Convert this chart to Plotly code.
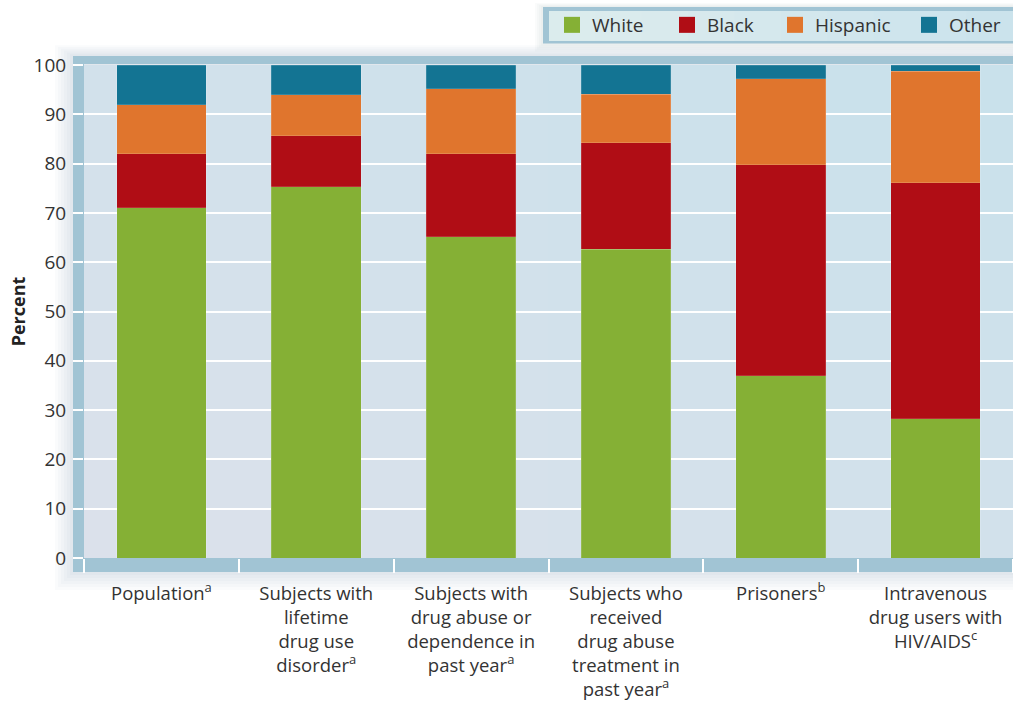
import plotly.graph_objects as go

# Groups compared (one stacked bar each) and their axis labels
categories = [
    "Population",
    "Lifetime drug use disorder",
    "Drug abuse or dependence in past year",
    "Drug abuse treatment in past year",
    "Prisoners",
    "IV drug users with HIV/AIDS",
]
tick_labels = [
    "Population<sup>a</sup>",
    "Subjects with<br>lifetime<br>drug use<br>disorder<sup>a</sup>",
    "Subjects with<br>drug abuse or<br>dependence in<br>past year<sup>a</sup>",
    "Subjects who<br>received<br>drug abuse<br>treatment in<br>past year<sup>a</sup>",
    "Prisoners<sup>b</sup>",
    "Intravenous<br>drug users with<br>HIV/AIDS<sup>c</sup>",
]

# Percent of each group by race/ethnicity
white = [71.0, 75.3, 65.2, 62.6, 37.0, 28.2]
black = [11.0, 10.3, 16.8, 21.6, 42.8, 47.9]
hispanic = [9.9, 8.4, 13.2, 9.9, 17.4, 22.6]
other = [8.1, 6.0, 4.8, 5.9, 2.8, 1.3]

y_ticks = list(range(0, 101, 10))
grid_ticks = list(range(10, 100, 10))

series_names = ["White", "Black", "Hispanic", "Other"]
series_values = [white, black, hispanic, other]
series_colors = ["#85b035", "#b00d15", "#e0752d", "#137493"]
# horizontal pixel position of each legend swatch
legend_icon_px = [573, 688, 796, 930]

FONT = "Open Sans"
TEXT = "#333333"
FRAME = "#a1c4d4"

# figure geometry (pixels)
W, H = 1013, 702
L, R, T, B = 84, 0, 65, 144
PW, PH = W - L - R, H - T - B


def fx(px):
    return (px - L) / PW


def fy(py):
    return (H - B - py) / PH


fig = go.Figure()

legends = {}
for k, (name, vals, color) in enumerate(zip(series_names, series_values, series_colors)):
    leg_id = "legend" if k == 0 else f"legend{k + 1}"
    fig.add_trace(go.Bar(
        x=categories, y=vals, name=name, legendgroup=name,
        marker=dict(color=color, line=dict(width=0.6, color="rgba(255,255,255,0.25)")),
        width=0.58, showlegend=False, hoverinfo="skip",
    ))
    # legend entry with a larger square swatch
    fig.add_trace(go.Scatter(
        x=[None], y=[None], mode="markers", name=name, legendgroup=name,
        marker=dict(symbol="square", size=16, color=color, line=dict(width=0)),
        yaxis="y2", showlegend=True, legend=leg_id,
    ))
    legends[leg_id] = dict(
        orientation="h",
        x=fx(legend_icon_px[k] - 21), xanchor="left", y=fy(25), yanchor="middle",
        bgcolor="rgba(0,0,0,0)", borderwidth=0,
        font=dict(family=FONT, size=19, color=TEXT),
        itemwidth=30, itemclick=False, itemdoubleclick=False,
    )

shapes = []


def rect(x0, y0, x1, y1, fill, layer="below"):
    shapes.append(dict(type="rect", xref="paper", yref="paper",
                       x0=fx(x0), x1=fx(x1), y0=fy(y1), y1=fy(y0),
                       fillcolor=fill, line=dict(width=0), layer=layer))


# soft drop shadow around the framed plot and the legend box
for i in range(6):
    d = 3 * (i + 1)
    rect(73 - d, 56 - d * 0.6, W + 30, 572 + d, "rgba(90,115,140,0.026)")
for i in range(4):
    d = 2 * (i + 1)
    rect(543 - d, 7 - d * 0.5, W + 30, 43.5 + d, "rgba(90,115,140,0.03)")

# legend box
rect(543, 7, W + 30, 43.5, FRAME)
rect(549, 11, W + 30, 41, "#c9e2eb")
for i in range(10):
    rect(549, 11, 549 + (W - 549) * (10 - i) / 10, 41, "rgba(255,255,255,0.05)")

# plot background with a gentle diagonal gradient
rect(L, T, W, H - B, "#c7e1eb")
for i in range(10):
    rect(L, H - B - PH * (i + 1) / 10, W, H - B, "rgba(255,255,255,0.032)")
    rect(L, T, L + PW * (i + 1) / 10, H - B, "rgba(255,255,255,0.032)")

# frame bands (left, bottom, top)
rect(73, 56, L, 572, FRAME)
rect(73, H - B, W + 30, 572, FRAME)
rect(73, 56, W + 30, 64, FRAME)

fig.update_layout(
    width=W, height=H,
    margin=dict(l=L, r=R, t=T, b=B, autoexpand=False),
    paper_bgcolor="white",
    plot_bgcolor="rgba(0,0,0,0)",
    barmode="stack",
    bargap=0.42,
    font=dict(family=FONT, size=19, color=TEXT),
    shapes=shapes,
    showlegend=True,
    xaxis=dict(
        type="category", categoryorder="array", categoryarray=categories,
        tickmode="array", tickvals=categories, ticktext=tick_labels,
        range=[-0.5, len(categories) - 0.5],
        ticks="outside", tickson="boundaries", ticklen=14,
        tickcolor="white", tickwidth=2,
        showgrid=False, showline=False, zeroline=False,
        tickfont=dict(family=FONT, size=18.5, color=TEXT),
        ticklabelstandoff=22,
    ),
    yaxis=dict(
        range=[0, 100], tickmode="array", tickvals=y_ticks,
        ticks="outside", ticklen=10, tickcolor="white", tickwidth=2,
        showgrid=False, showline=False, zeroline=False,
        tickfont=dict(family=FONT, size=19, color=TEXT),
        ticklabelstandoff=3,
        title=dict(text="<b>Percent</b>", standoff=3,
                   font=dict(family=FONT, size=18, color="#222222")),
    ),
    yaxis2=dict(
        overlaying="y", side="left", range=[0, 100],
        tickmode="array", tickvals=grid_ticks,
        showgrid=True, gridcolor="white", gridwidth=2,
        showticklabels=False, ticks="", showline=False, zeroline=False,
    ),
    **legends,
)

fig.write_html("out.html")
